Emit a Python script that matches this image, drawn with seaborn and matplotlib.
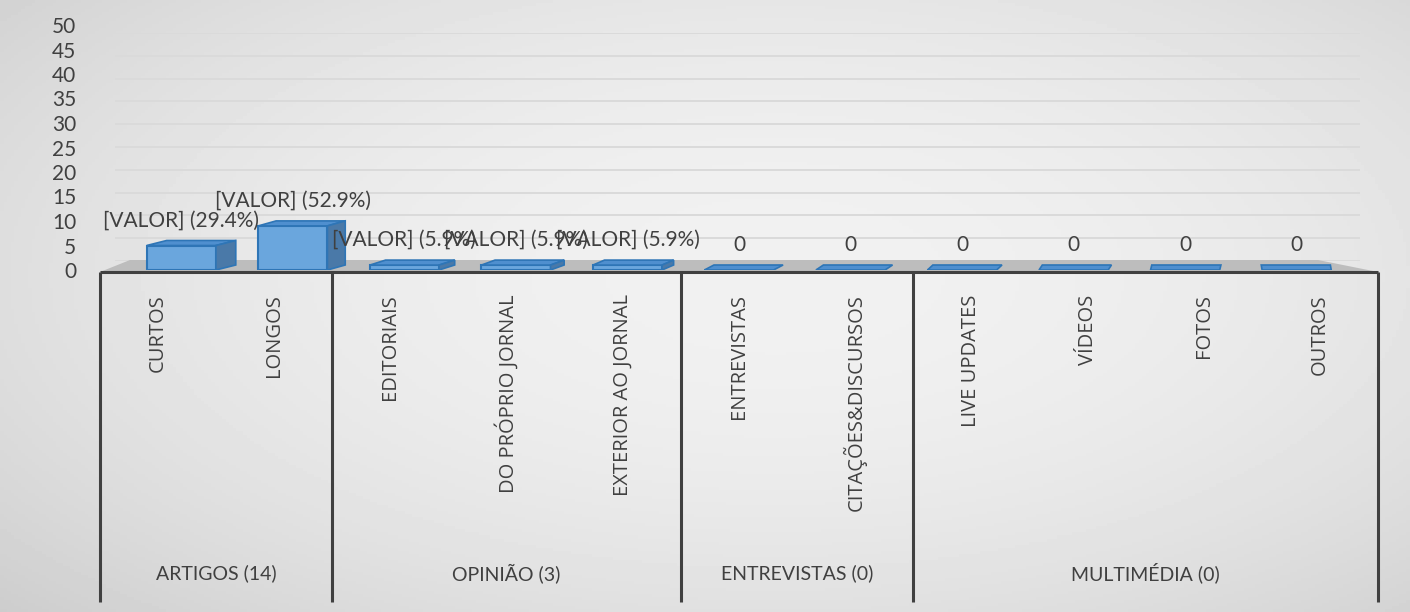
import numpy as np
import matplotlib
matplotlib.use("Agg")
import matplotlib.pyplot as plt
from matplotlib.patches import Polygon
import seaborn as sns

# Data
CATEGORIES = ["CURTOS", "LONGOS", "EDITORIAIS", "DO PRÓPRIO JORNAL", "EXTERIOR AO JORNAL",
              "ENTREVISTAS", "CITAÇÕES&DISCURSOS", "LIVE UPDATES", "VÍDEOS", "FOTOS", "OUTROS"]
VALUES = [5, 9, 1, 1, 1, 0, 0, 0, 0, 0, 0]
GROUPS = ["ARTIGOS (14)", "OPINIÃO (3)", "ENTREVISTAS (0)", "MULTIMÉDIA (0)"]
GROUP_SIZES = [2, 3, 2, 4]
Y_TICKS = list(range(0, 55, 5))

W, H = 1410, 612
TEXT = "#404040"
FRONT = "#6aa6dd"
EDGE = "#2e75b6"
TOP = "#4f8fcf"
SIDE = "#4a79a8"

sns.set_theme(style="white")
plt.rcParams["font.family"] = ["Lato", "DejaVu Sans"]


def box(l, t, r, b):
    # pixel box -> figure fraction rect
    return [l / W, 1 - b / H, (r - l) / W, (b - t) / H]


fig = plt.figure(figsize=(W / 100, H / 100), dpi=100)

# background gradient
bg = fig.add_axes([0, 0, 1, 1], zorder=-10)
yy, xx = np.mgrid[0:1:200j, 0:1:400j]
r = np.sqrt(((xx - 0.55) / 0.75) ** 2 + ((yy - 0.45) / 0.8) ** 2)
shade = 0.945 - 0.14 * r ** 2
bg.imshow(shade, cmap="gray", vmin=0, vmax=1, extent=[0, 1, 0, 1], aspect="auto")
bg.axis("off")

# back wall with gridlines + floor
wall = fig.add_axes(box(115, 33, 1360, 261), zorder=0)
wall.patch.set_alpha(0)
wall.set_ylim(0, 50)
wall.set_yticks(Y_TICKS)
wall.set_xticks([])
wall.tick_params(axis="y", length=0, labelleft=False)
wall.grid(axis="y", color="#dadada", lw=1.4)
for s in wall.spines.values():
    s.set_visible(False)
floor = [(100, 272), (1378, 272), (1318, 260), (130, 260)]
wall.add_patch(Polygon([(x / W, 1 - y / H) for x, y in floor], closed=True,
                       transform=fig.transFigure, facecolor="#bdbdbd",
                       edgecolor="none", clip_on=False))

# bars
ax = fig.add_axes(box(100, 25, 1378, 270), zorder=2)
ax.patch.set_alpha(0)
sns.barplot(x=CATEGORIES, y=VALUES, color=FRONT, saturation=1, width=0.62,
            edgecolor=EDGE, linewidth=1.5, ax=ax)
half = 5.5 / 0.96
ax.set_xlim(5 - half, 5 + half)
ax.set_ylim(0, 50)
ax.set_yticks(Y_TICKS)
ax.set_xticks([])
ax.set_xlabel("")
ax.set_ylabel("")
ax.tick_params(axis="y", length=0, pad=17, labelsize=15, labelcolor=TEXT)
for s in ax.spines.values():
    s.set_visible(False)

px_x = 1278 / (2 * half)
px_y = 245 / 50
total = sum(VALUES)
for bar, v in zip(list(ax.patches), VALUES):
    x0, w, h = bar.get_x(), bar.get_width(), bar.get_height()
    x1 = x0 + w
    xc_px = 100 + (x0 + w / 2 - (5 - half)) * px_x
    dx = 0.0186 * (1250 - xc_px) / px_x
    dy = 5 / px_y
    top = [(x0, h), (x1, h), (x1 + dx, h + dy), (x0 + dx, h + dy)]
    ax.add_patch(Polygon(top, closed=True, facecolor=TOP, edgecolor=EDGE, lw=1.2, zorder=3))
    if h > 0:
        xs = x1 if dx > 0 else x0
        side = [(xs, 0), (xs + dx, dy), (xs + dx, h + dy), (xs, h)]
        ax.add_patch(Polygon(side, closed=True, facecolor=SIDE, edgecolor=EDGE, lw=1.2, zorder=3))
    label = f"[VALOR] ({v / total * 100:.1f}%)" if v > 0 else "0"
    ax.annotate(label, (x0 + w / 2, h), xytext=(0, 18), textcoords="offset points",
                ha="center", va="center", fontsize=15, color=TEXT, zorder=5)

# category axis
cat = fig.add_axes(box(100, 272, 1378, 602), zorder=1)
cat.patch.set_alpha(0)
cat.set_xlim(-0.5, 10.5)
cat.set_ylim(1, 0)
cat.axis("off")
cat.plot([-0.5, 10.5], [0, 0], color=TEXT, lw=2.2, clip_on=False, solid_capstyle="butt")
edges = np.cumsum([0] + GROUP_SIZES) - 0.5
for e in edges:
    cat.plot([e, e], [0, 1], color=TEXT, lw=2.2, clip_on=False, solid_capstyle="butt")
for i, name in enumerate(CATEGORIES):
    cat.text(i, 0.068, name, rotation=90, ha="center", va="top", fontsize=14.5,
             family=["Open Sans", "DejaVu Sans"], color=TEXT)
for g, a, b in zip(GROUPS, edges[:-1], edges[1:]):
    cat.text((a + b) / 2, 0.912, g, ha="center", va="center", fontsize=14, color=TEXT)

fig.savefig("out.png", dpi=100)
